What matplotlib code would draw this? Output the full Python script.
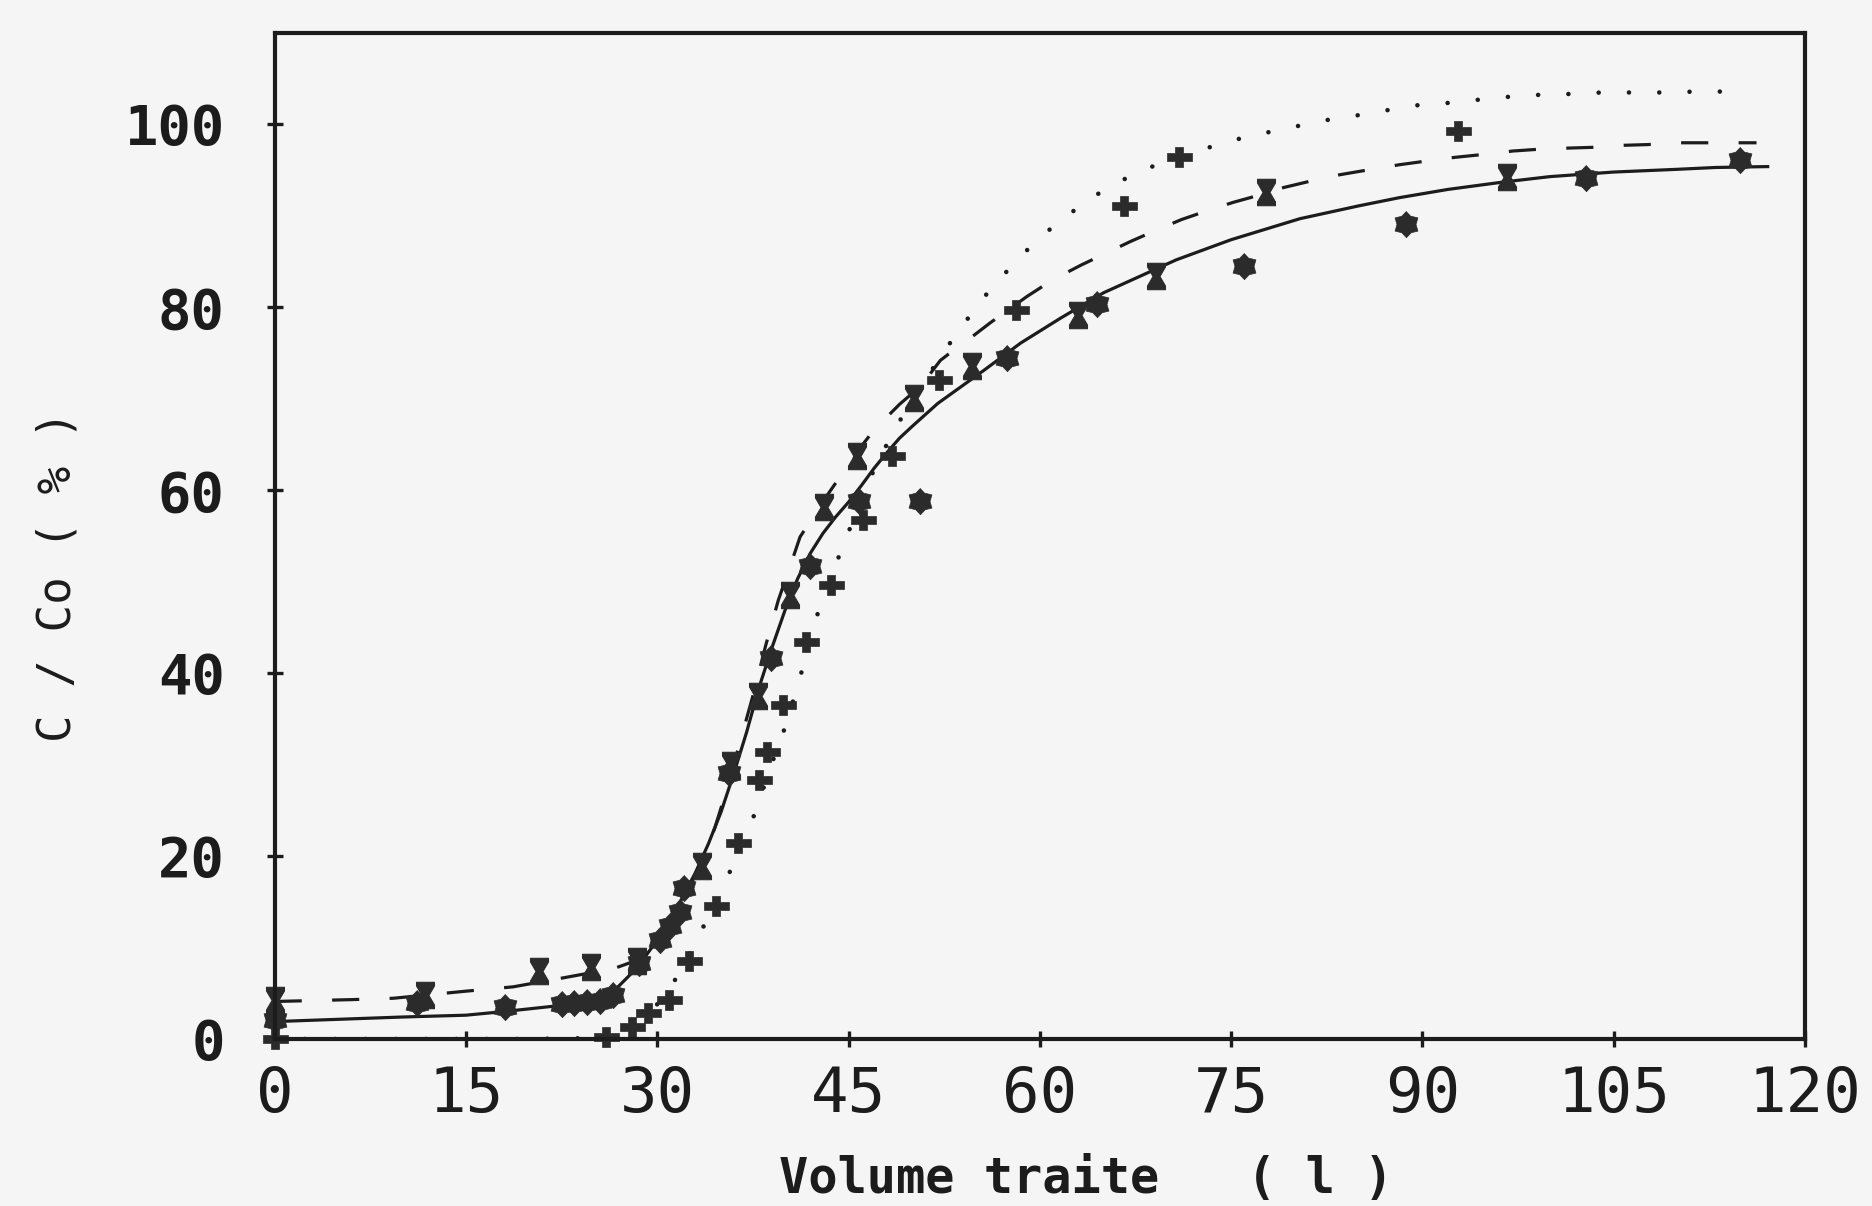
import numpy as np
import matplotlib
matplotlib.use("Agg")
import matplotlib.pyplot as plt
from matplotlib.path import Path

# ---------------- data ----------------
# measured points, series 1 (filled 6-lobed markers, solid fit)
s1_x = [0, 11.2, 18.1, 22.5, 23.5, 24.5, 25.5, 26.5, 28.6, 30.2, 31.0, 31.8, 32.1,
        35.6, 38.95, 42.0, 45.8, 50.6, 57.4, 64.5, 76.0, 88.7, 102.8, 114.9]
s1_y = [2.1, 3.9, 3.5, 3.8, 3.9, 4.0, 4.2, 4.8, 8.3, 10.8, 12.3, 13.9, 16.5,
        29.1, 41.7, 51.7, 58.8, 58.8, 74.5, 80.4, 84.5, 89.1, 94.1, 96.1]

# measured points, series 2 (hourglass markers, dashed fit)
s2_x = [0, 11.8, 20.7, 24.8, 28.4, 33.5, 35.8, 37.9, 40.4, 43.1, 45.7, 50.1, 54.7,
        63.0, 69.1, 77.7, 96.6]
s2_y = [4.3, 4.8, 7.4, 7.9, 8.5, 18.9, 30.0, 37.5, 48.6, 58.2, 63.8, 70.1, 73.6,
        79.2, 83.4, 92.6, 94.3]

# measured points, series 3 (plus markers, dotted fit)
s3_x = [0, 26.0, 28.0, 29.3, 30.9, 32.5, 34.6, 36.3, 38.0, 38.6, 39.9, 41.7, 43.6,
        46.1, 48.4, 52.1, 58.1, 66.6, 70.9, 92.8]
s3_y = [0, 0.2, 1.3, 2.8, 4.3, 8.5, 14.5, 21.4, 28.3, 31.4, 36.5, 43.4, 49.6,
        56.8, 63.8, 72.1, 79.7, 91.1, 96.4, 99.3]

# fitted curves
c1_x = [0, 10, 15, 18, 20, 22, 24, 26, 27, 28, 29, 30, 31, 32, 33, 34, 35, 36, 37,
        38, 39, 40, 41, 42, 43, 44, 45, 46, 47, 48, 49, 50, 52, 54, 55.6, 58.5,
        61.6, 65, 70.7, 75, 80.4, 85, 88.2, 92, 96.3, 100, 105, 110, 113, 117.2]
c1_y = [1.9, 2.4, 2.6, 3.0, 3.3, 3.6, 4.0, 4.8, 5.8, 7.2, 8.9, 10.8, 13.0, 15.5,
        18.2, 21.3, 24.8, 29.0, 33.5, 38.5, 42.8, 46.8, 50.3, 53.1, 55.3, 57.1,
        58.7, 60.5, 62.4, 64.1, 65.7, 67.0, 69.5, 71.5, 73.1, 76.1, 78.8, 81.6,
        85.2, 87.4, 89.7, 91.1, 92.0, 92.9, 93.7, 94.3, 94.8, 95.1, 95.3, 95.4]

c2_x = [0, 6, 9.3, 14.8, 18.7, 22.7, 26.6, 28.4, 29.5, 30.5, 31.5, 32.5, 33.5,
        34.5, 35.5, 36.5, 37.5, 38.5, 39.5, 40.5, 41.2, 42, 43, 44, 45, 46, 47, 48,
        49, 50, 51, 52.2, 53.5, 54.7, 56.1, 59, 61, 63.2, 65.3, 67.1, 68.9, 71.1,
        73.4, 75.2, 76.5, 79.1, 81.2, 83.5, 85.6, 88.2, 90.3, 92.5, 94.6, 97.1,
        99.2, 101, 103.3, 105.2, 107.6, 110.2, 116.2]
c2_y = [4.1, 4.3, 4.45, 5.2, 5.7, 6.7, 7.7, 8.6, 9.8, 11.5, 13.8, 16.5, 19.5,
        23.0, 27.5, 32.5, 37.5, 43.0, 48.0, 52.0, 54.9, 56.6, 58.8, 60.8, 62.5,
        64.8, 66.6, 68.0, 69.4, 70.6, 72.0, 74.2, 75.6, 76.8, 78.3, 81.2, 83.0,
        84.6, 86.0, 87.2, 88.3, 89.6, 90.7, 91.5, 92.0, 93.1, 93.8, 94.5, 95.0,
        95.6, 96.0, 96.4, 96.7, 97.1, 97.3, 97.4, 97.5, 97.7, 97.8, 98.0, 98.0]

c3_x = [0, 10, 20, 25, 27, 28, 29, 30, 31, 31.7, 33, 33.7, 35.2, 35.8, 37.3, 37.8,
        38.9, 39.8, 40.2, 41.1, 41.5, 42.3, 42.9, 44.0, 44.6, 46.5, 48.5, 50.5,
        52.7, 53.9, 55.3, 56.8, 58.5, 60.4, 62.4, 64.3, 66.3, 68.4, 72.6, 74.9,
        77.4, 79.8, 82.1, 84.9, 87.4, 89.6, 92.4, 95.0, 98.1, 100.9, 104.1, 108.8,
        111.6, 114.1]
c3_y = [0, 0, 0, 0.1, 0.5, 1.2, 2.2, 3.8, 5.5, 7.2, 10.5, 12.5, 16.8, 18.6, 23.4,
        25.2, 29.8, 33.2, 34.8, 39.1, 41.0, 45.5, 47.6, 51.9, 54.0, 60.8, 66.4,
        71.0, 75.6, 77.9, 80.6, 83.0, 85.6, 88.1, 90.3, 92.2, 93.8, 95.2, 97.2,
        98.2, 99.0, 99.7, 100.4, 101.0, 101.6, 102.1, 102.4, 102.8, 103.2, 103.3,
        103.5, 103.5, 103.6, 103.6]

x_ticks = [0, 15, 30, 45, 60, 75, 90, 105, 120]
y_ticks = [0, 20, 40, 60, 80, 100]
x_label = "Volume traite   ( l )"
y_label = "C / Co ( % )"

# ---------------- marker shapes ----------------
ang = np.deg2rad(90 + np.arange(12) * 30)
rad = np.where(np.arange(12) % 2 == 0, 1.0, 0.72)
flower = Path(np.column_stack([rad * np.cos(ang), rad * np.sin(ang)]))

hour_v = [(-0.34, 0.5), (0.34, 0.5), (0.34, 0.36), (0.13, 0.0), (0.34, -0.36),
          (0.34, -0.5), (-0.34, -0.5), (-0.34, -0.36), (-0.13, 0.0), (-0.34, 0.36)]
hourglass = Path(hour_v + [hour_v[0]], closed=True)

t = 0.15
plus_v = [(-0.5, t), (-t, t), (-t, 0.4), (t, 0.4), (t, t), (0.5, t), (0.5, -t),
          (t, -t), (t, -0.4), (-t, -0.4), (-t, -t), (-0.5, -t)]
plus = Path(plus_v + [plus_v[0]], closed=True)

# ---------------- figure ----------------
bg = "#f5f5f5"
ink = "#1c1c1c"
mk = "#2b2b2b"
fig = plt.figure(figsize=(18.72, 12.06), dpi=100, facecolor=bg)
ax = fig.add_axes([0.1467, 0.1385, 0.8175, 0.8341], facecolor=bg)

ax.plot(c1_x, c1_y, color=ink, lw=2.3, ls="-", solid_capstyle="butt")
ax.plot(c2_x, c2_y, color=ink, lw=2.3, ls=(0, (8.5, 9.5)))
ax.plot(c3_x, c3_y, color=ink, lw=3.3, ls=(0, (0.01, 6.6)), dash_capstyle="round")

ax.plot(s1_x, s1_y, ls="none", marker=flower, ms=19, color=mk, mec=mk, mew=0.5, clip_on=False)
ax.plot(s2_x, s2_y, ls="none", marker=hourglass, ms=19, color=mk, mec=mk, mew=0.8, clip_on=False)
ax.plot(s3_x, s3_y, ls="none", marker=plus, ms=18, color=mk, mec=mk, mew=0.5, clip_on=False)

ax.set_xlim(0, 120)
ax.set_ylim(0, 110)
ax.set_xticks(x_ticks)
ax.set_yticks(y_ticks)
ax.set_xticklabels([str(v) for v in x_ticks], family="DejaVu Sans Mono", fontsize=45, color=ink)
ax.set_yticklabels([str(v) for v in y_ticks], family="DejaVu Sans Mono", fontsize=40,
                   fontweight="bold", color=ink)
ax.tick_params(axis="both", direction="inout", length=12, width=2.4, color=ink)
ax.tick_params(axis="x", pad=13)
ax.tick_params(axis="y", pad=30)
for sp in ax.spines.values():
    sp.set_linewidth(3.0)
    sp.set_color(ink)

fig.text(0.031, 0.522, y_label, rotation=90, ha="center", va="center",
         family="DejaVu Sans Mono", fontsize=33, color=ink)
fig.text(0.580, 0.022, x_label, ha="center", va="center",
         family="DejaVu Sans Mono", fontsize=35, fontweight="bold", color=ink)

fig.savefig("out.png", dpi=100, facecolor=bg)
